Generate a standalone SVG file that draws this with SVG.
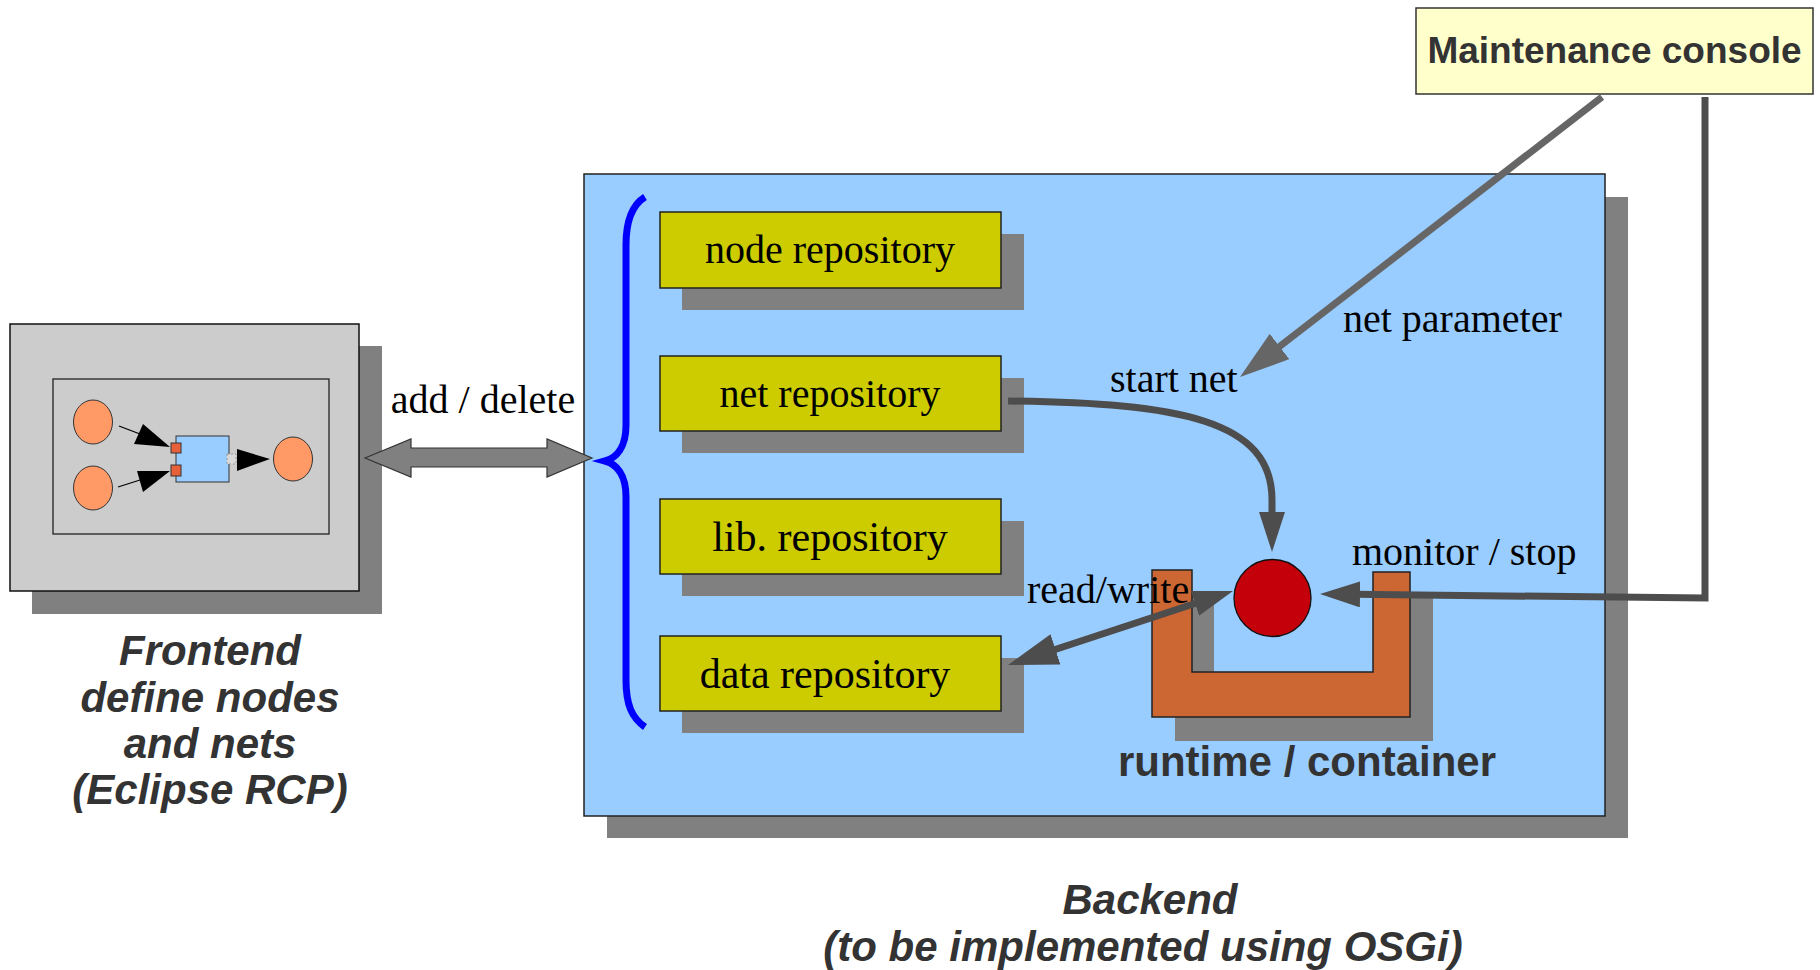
<svg xmlns="http://www.w3.org/2000/svg" width="1820" height="970" viewBox="0 0 1820 970">
<style>
.shadow{fill:#808080;stroke:none}
.repo{fill:#cccc00;stroke:#222;stroke-width:1.5}
.serif{font-family:"Liberation Serif","Times New Roman",serif;font-size:40px;fill:#000}
.bold{font-family:"Liberation Sans",Arial,sans-serif;font-weight:bold;fill:#333}
.bi{font-family:"Liberation Sans",Arial,sans-serif;font-weight:bold;font-style:italic;font-size:42px;fill:#333}
.conn{fill:none;stroke:#4d4d4d;stroke-width:7}
.thin{stroke:#000;stroke-width:1.3;fill:none}
</style>
<defs>
<marker id="ahS" markerUnits="userSpaceOnUse" viewBox="0 0 40 26" markerWidth="40" markerHeight="26" refX="28" refY="13" orient="auto-start-reverse"><path d="M0,0 L40,13 L0,26 z" fill="#4d4d4d"/></marker>
<marker id="ahL" markerUnits="userSpaceOnUse" viewBox="0 0 50 32" markerWidth="50" markerHeight="32" refX="38" refY="16" orient="auto-start-reverse"><path d="M0,0 L50,16 L0,32 z" fill="#4d4d4d"/></marker>
<marker id="ahG" markerUnits="userSpaceOnUse" viewBox="0 0 50 32" markerWidth="50" markerHeight="32" refX="38" refY="16" orient="auto-start-reverse"><path d="M0,0 L50,16 L0,32 z" fill="#666666"/></marker>
</defs>
<rect width="1820" height="970" fill="#ffffff"/>

<g id="frontend">
<rect class="shadow" x="32" y="346" width="350" height="268"/>
<rect x="10" y="324" width="349" height="267" fill="#cccccc" stroke="#111" stroke-width="1.5"/>
<rect x="53" y="379" width="276" height="155" fill="#cccccc" stroke="#222" stroke-width="1.3"/>
<ellipse cx="93" cy="422" rx="19.5" ry="22" fill="#ff9966" stroke="#333" stroke-width="1"/>
<ellipse cx="93" cy="488" rx="19.5" ry="22" fill="#ff9966" stroke="#333" stroke-width="1"/>
<ellipse cx="293" cy="459" rx="19.5" ry="22" fill="#ff9966" stroke="#333" stroke-width="1"/>
<rect x="176" y="436" width="53" height="46" fill="#99ccff" stroke="#333" stroke-width="1"/>
<rect x="171" y="443" width="10" height="10" fill="#e6603a" stroke="#333" stroke-width="1"/>
<rect x="171" y="465" width="10" height="11" fill="#e6603a" stroke="#333" stroke-width="1"/>
<rect x="227" y="454" width="9" height="10" fill="#d8d8d8" stroke="#999" stroke-width="1" stroke-dasharray="2,2"/>
<line class="thin" x1="119" y1="426" x2="140" y2="434"/>
<polygon points="134,444 143,424 170,447" fill="#000"/>
<line class="thin" x1="118" y1="487" x2="140" y2="480"/>
<polygon points="137,471 143,492 170,471" fill="#000"/>
<polygon points="237,449 237,471 270,459" fill="#000"/>
<text class="bi" x="210" y="665" text-anchor="middle">Frontend</text>
<text class="bi" x="210" y="712" text-anchor="middle">define nodes</text>
<text class="bi" x="210" y="758" text-anchor="middle">and nets</text>
<text class="bi" x="210" y="804" text-anchor="middle">(Eclipse RCP)</text>
</g>

<g id="backend">
<rect class="shadow" x="607" y="197" width="1021" height="641"/>
<rect x="584" y="174" width="1021" height="642" fill="#99ccff" stroke="#222" stroke-width="1.5"/>
<path d="M645,197 C632,205 626,220 626,245 L626,425 C626,448 616,458 605,461 C616,464 626,474 626,497 L626,680 C626,705 632,718 645,727" fill="none" stroke="#0000ff" stroke-width="7"/>
<text class="bi" x="1150" y="914" text-anchor="middle">Backend</text>
<text class="bi" x="1143" y="961" text-anchor="middle">(to be implemented using OSGi)</text>
</g>

<g id="node-repository">
<rect class="shadow" x="682" y="234" width="342" height="76"/>
<rect class="repo" x="660" y="212" width="341" height="76"/>
<text class="serif" x="830" y="263" text-anchor="middle">node repository</text>
</g>
<g id="net-repository">
<rect class="shadow" x="682" y="378" width="342" height="75"/>
<rect class="repo" x="660" y="356" width="341" height="75"/>
<text class="serif" x="830" y="407" text-anchor="middle">net repository</text>
</g>
<g id="lib-repository">
<rect class="shadow" x="682" y="521" width="342" height="75"/>
<rect class="repo" x="660" y="499" width="341" height="75"/>
<text class="serif" x="830" y="551" text-anchor="middle" style="font-size:42px">lib. repository</text>
</g>
<g id="data-repository">
<rect class="shadow" x="682" y="658" width="342" height="75"/>
<rect class="repo" x="660" y="636" width="341" height="75"/>
<text class="serif" x="825" y="688" text-anchor="middle" style="font-size:42px">data repository</text>
</g>

<g id="runtime-container">
<polygon class="shadow" points="1175,592 1214,592 1214,694 1396,694 1396,595 1433,595 1433,741 1175,741"/>
<polygon points="1152,570 1192,570 1192,672 1373,672 1373,572 1410,572 1410,717 1152,717" fill="#cc6633" stroke="#222" stroke-width="1.5"/>
<text class="bold" x="1307" y="776" text-anchor="middle" style="font-size:42px">runtime / container</text>
</g>

<g id="net-instance">
<circle cx="1272.5" cy="598" r="38.5" fill="#c4000a" stroke="#111" stroke-width="1.3"/>
</g>

<g id="maintenance-console">
<rect x="1416" y="8" width="397" height="86" fill="#ffffcc" stroke="#333" stroke-width="1.5"/>
<text class="bold" x="1614.5" y="63" text-anchor="middle" style="font-size:37px">Maintenance console</text>
</g>

<g id="connectors">
<polygon points="365,458 411,439 411,448 547,448 547,439 592,458 547,477 547,467 411,467 411,477" fill="#808080" stroke="#333" stroke-width="1.2"/>
<path class="conn" d="M1008,401 C1180,403 1272,420 1272,500 L1272,540" marker-end="url(#ahS)"/>
<path class="conn" d="M1705,97 L1705,598 L1332,594.1" stroke-linejoin="miter" marker-end="url(#ahS)"/>
<path class="conn" d="M1602,97 L1249.5,369.7" style="stroke:#666666" marker-end="url(#ahG)"/>
<path class="conn" d="M1019.4,661.3 L1221.6,594.7" marker-start="url(#ahL)" marker-end="url(#ahS)"/>
<text class="serif" x="483" y="413" text-anchor="middle">add / delete</text>
<text class="serif" x="1343" y="332">net parameter</text>
<text class="serif" x="1110" y="392">start net</text>
<text class="serif" x="1352" y="565">monitor / stop</text>
<text class="serif" x="1027" y="603">read/write</text>
</g>
</svg>
